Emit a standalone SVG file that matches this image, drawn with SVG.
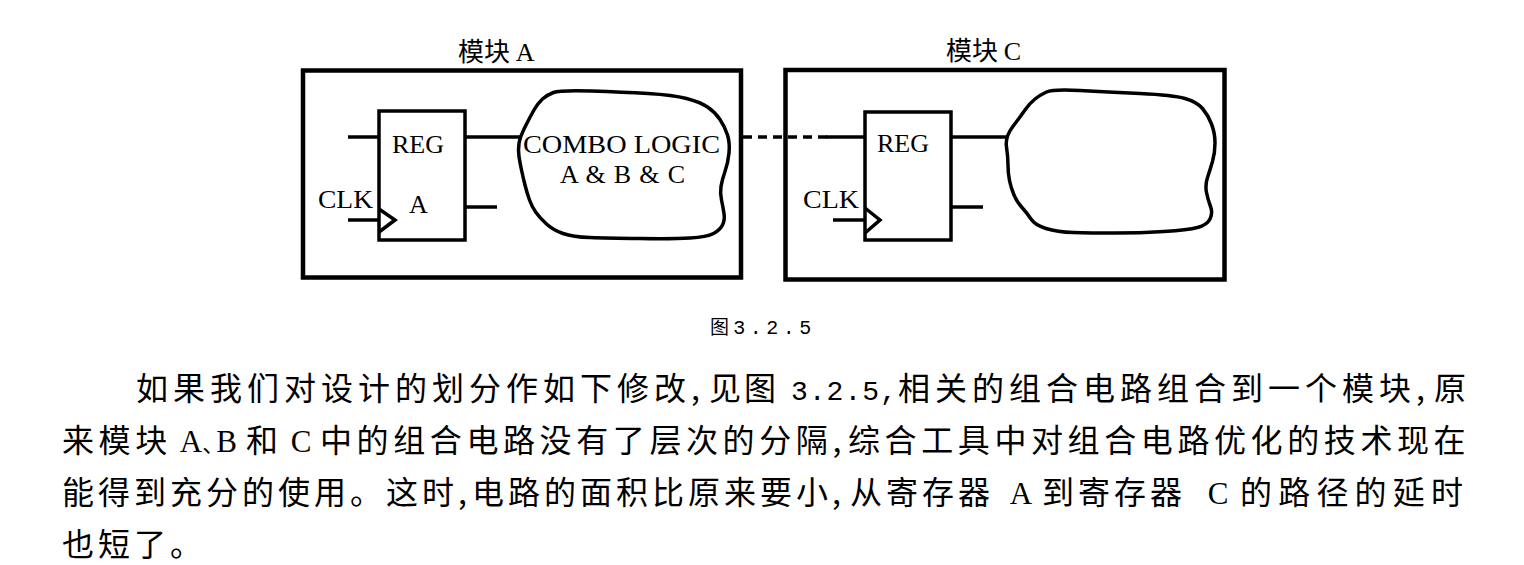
<svg xmlns="http://www.w3.org/2000/svg" width="1524" height="565" viewBox="0 0 1524 565">
<style>
  .bg { fill: #ffffff; }
  .box { fill: none; stroke: #000; stroke-width: 4.5; }
  .reg { fill: none; stroke: #000; stroke-width: 3.5; }
  .wire { fill: none; stroke: #000; stroke-width: 3.5; }
  .dash { fill: none; stroke: #000; stroke-width: 3.5; stroke-dasharray: 9 6; }
  .cloud { fill: none; stroke: #000; stroke-width: 3.5; stroke-linejoin: round; }
  .lbl { font-family: "Liberation Serif", "Times New Roman", serif; font-size: 26px; fill: #000; }
  .title { font-family: "Noto Sans CJK SC", "Noto Sans CJK TC", sans-serif; font-size: 26px; fill: #000; }
  .cap { font-family: "Noto Sans CJK SC", sans-serif; font-size: 19px; fill: #000; }
  .para { font-family: "Noto Sans CJK SC", "Noto Sans CJK TC", sans-serif; font-size: 32px; fill: #000; }
  .lat { font-family: "Liberation Serif", "Times New Roman", serif; font-size: 31px; letter-spacing: 0; }
  .dun { font-family: "Noto Sans CJK SC", sans-serif; font-size: 22px; letter-spacing: -8px; }
  .num { font-family: "Liberation Mono", "Courier New", monospace; font-size: 28px; letter-spacing: 1px; }
  .capnum { font-family: "Liberation Mono", "Courier New", monospace; font-size: 20px; letter-spacing: 4.5px; }
</style>
<rect class="bg" x="0" y="0" width="1524" height="565"/>

<g id="module-a">
  <rect class="box" x="303" y="70.5" width="438" height="207"/>
  <text class="title" x="458" y="61">模块 <tspan class="lbl">A</tspan></text>
</g>

<g id="module-c">
  <rect class="box" x="785.5" y="70" width="439" height="209.5"/>
  <text class="title" x="946" y="60">模块 <tspan class="lbl">C</tspan></text>
</g>

<g id="reg-a">
  <rect class="reg" x="379" y="111" width="86" height="129"/>
  <polyline class="wire" points="379,209 395,220 379,232"/>
  <text class="lbl" x="392" y="153">REG</text>
  <text class="lbl" x="409" y="213">A</text>
  <text class="lbl" x="318" y="208" textLength="55" lengthAdjust="spacingAndGlyphs">CLK</text>
</g>

<g id="reg-c">
  <rect class="reg" x="865" y="112" width="86" height="128"/>
  <polyline class="wire" points="865,208 880,220 865,233"/>
  <text class="lbl" x="877" y="152">REG</text>
  <text class="lbl" x="803" y="208" textLength="56" lengthAdjust="spacingAndGlyphs">CLK</text>
</g>

<g id="combo-a">
  <path class="cloud" d="M519,143.5 Q520,137 525,127 Q530,117 534,110 Q538,103 542.5,99 Q547,95 553.5,92.5 Q560,90 591.5,91 Q623,92 648,93.5 Q673,95 686.5,98.5 Q700,102 707.5,107 Q715,112 720,119.5 Q725,127 727.5,135 Q730,143 729,153 Q728,163 725,171.5 Q722,180 721,186.5 Q720,193 721.5,200 Q723,207 724,213.5 Q725,220 722.5,225 Q720,230 713.5,233.5 Q707,237 690,238 Q673,239 640,238.5 Q607,238 590,237.5 Q573,237 563,233.5 Q553,230 546.5,224 Q540,218 536,212.5 Q532,207 529.5,200 Q527,193 525,185 Q523,177 521.5,170 Q520,163 519,156.5 Q518,150 519,143.5 Z"/>
  <text class="lbl" x="523" y="153" textLength="197" lengthAdjust="spacingAndGlyphs">COMBO  LOGIC</text>
  <text class="lbl" x="560" y="183" textLength="125" lengthAdjust="spacing">A &amp; B &amp; C</text>
</g>

<g id="combo-c">
  <path class="cloud" d="M1006.5,147 Q1005,137 1012.5,127 Q1020,117 1025,110 Q1030,103 1035,99 Q1040,95 1046.5,92 Q1053,89 1080,90.5 Q1107,92 1140,93.5 Q1173,95 1185,98.5 Q1197,102 1202.5,108.5 Q1208,115 1211.5,124 Q1215,133 1215,143 Q1215,153 1212.5,161.5 Q1210,170 1207.5,177.5 Q1205,185 1206.5,192.5 Q1208,200 1210.5,206.5 Q1213,213 1210,219 Q1207,225 1197.5,227.5 Q1188,230 1164,231.5 Q1140,233 1115,233 Q1090,233 1073.5,232.5 Q1057,232 1046,228.5 Q1035,225 1031,219 Q1027,213 1022,207.5 Q1017,202 1014,195 Q1011,188 1009.5,180.5 Q1008,173 1008,165 Q1008,157 1006.5,147 Z"/>
</g>

<g id="connectors">
  <line class="wire" x1="348" y1="137" x2="379" y2="137"/>
  <line class="wire" x1="348" y1="220" x2="379" y2="220"/>
  <line class="wire" x1="465" y1="137" x2="521" y2="137"/>
  <line class="wire" x1="465" y1="207" x2="497" y2="207"/>
  <line class="dash" x1="743" y1="137" x2="827" y2="137"/>
  <line class="wire" x1="826" y1="137" x2="865" y2="137"/>
  <line class="wire" x1="833" y1="220" x2="865" y2="220"/>
  <line class="wire" x1="951" y1="137" x2="1007" y2="137"/>
  <line class="wire" x1="951" y1="207" x2="983" y2="207"/>
</g>

<g id="caption">
  <text class="cap" x="710" y="334">图 <tspan class="capnum">3.2.5</tspan></text>
</g>

<g id="paragraph">
  <text class="para" y="400" letter-spacing="5"><tspan x="136">如果我们对设计的划分作如下修改,</tspan><tspan x="709" letter-spacing="3">见图 </tspan><tspan x="791" class="num">3.2.5,</tspan><tspan x="898">相关的组合电路组合到一个模块,</tspan><tspan x="1434">原</tspan></text>
  <text class="para" y="452" letter-spacing="4.6"><tspan x="62">来模块</tspan><tspan x="172" class="lat"> A<tspan class="dun">、</tspan>B </tspan><tspan x="246">和</tspan><tspan x="283" class="lat"> C </tspan><tspan x="320">中的组合电路没有了层次的分隔,</tspan><tspan x="848">综合工具中对组合电路优化的技术现在</tspan></text>
  <text class="para" y="504" letter-spacing="4"><tspan x="62">能得到充分的使用。这时,</tspan><tspan x="472">电路的面积比原来要小,</tspan><tspan x="850">从寄存器</tspan><tspan x="1002" class="lat"> A </tspan><tspan x="1042">到寄存器</tspan><tspan x="1200" class="lat"> C </tspan><tspan x="1240" letter-spacing="6.2">的路径的延时</tspan></text>
  <text class="para" x="62" y="556" letter-spacing="4">也短了。</text>
</g>
</svg>
